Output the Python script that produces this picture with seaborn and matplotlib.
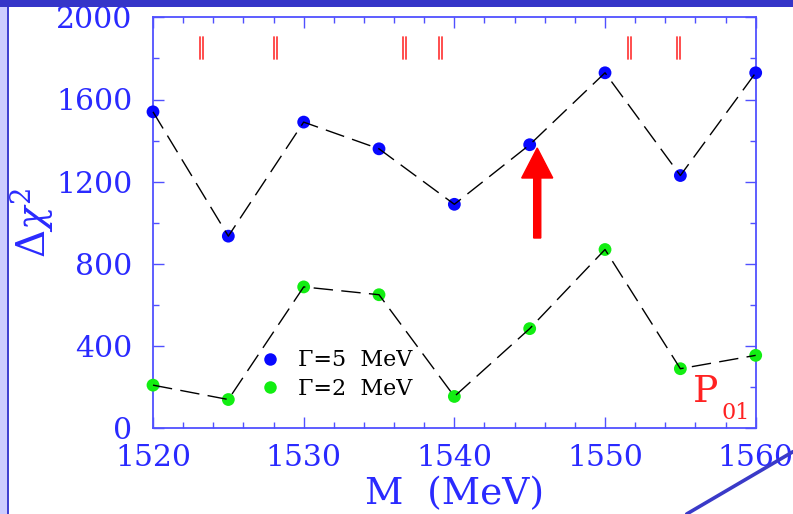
import numpy as np
import pandas as pd
import matplotlib
matplotlib.use("Agg")
import matplotlib.pyplot as plt
import seaborn as sns
from matplotlib.patches import Rectangle
from matplotlib.lines import Line2D
from matplotlib.ticker import MultipleLocator

# ---- data ----
masses = [1520, 1525, 1530, 1535, 1540, 1545, 1550, 1555, 1560]
chi2_gamma5 = [1540, 935, 1490, 1360, 1090, 1380, 1730, 1230, 1730]
chi2_gamma2 = [210, 140, 688, 650, 155, 485, 870, 290, 355]
series_labels = ["\u0393=5  MeV", "\u0393=2  MeV"]
resonance_marks = [1523.2, 1528.1, 1536.7, 1539.1, 1551.6, 1554.9]
arrow_mass = 1545.5
arrow_from, arrow_to = 926, 1364
x_ticks = [1520, 1530, 1540, 1550, 1560]
y_ticks = [0, 400, 800, 1200, 1600, 2000]

sns.set_style("ticks")
plt.rcParams["font.family"] = ["DejaVu Serif"]
plt.rcParams["mathtext.fontset"] = "dejavuserif"

W, H = 793, 514
fig = plt.figure(figsize=(W / 100, H / 100), dpi=100)
ax = fig.add_axes([153 / W, 1 - 428.3 / H, (755.7 - 153) / W, (428.3 - 17.3) / H])

df = pd.DataFrame({
    "M": masses * 2,
    "chi2": chi2_gamma5 + chi2_gamma2,
    "series": [series_labels[0]] * len(masses) + [series_labels[1]] * len(masses),
})
palette = {series_labels[0]: "#0808ff", series_labels[1]: "#12ee12"}

sns.scatterplot(data=df, x="M", y="chi2", hue="series", palette=palette,
                s=85, linewidth=0, ax=ax, clip_on=False, zorder=3, legend=False)
for lab in series_labels:
    sub = df[df["series"] == lab]
    sns.lineplot(data=sub, x="M", y="chi2", color="black", lw=1.0, ax=ax,
                 linestyle=(0, (14, 6)), zorder=4, clip_on=False)

# resonance double ticks
for xm in resonance_marks:
    for dx in (-0.1, 0.1):
        ax.plot([xm + dx, xm + dx], [1797, 1906], color="#ff4040", lw=1.3, zorder=2)

# red arrow
ax.arrow(arrow_mass, arrow_from, 0, arrow_to - arrow_from, width=0.47,
         head_width=2.06, head_length=146, length_includes_head=True,
         color="#ff0000", zorder=5)

ax.set_xlim(1520, 1560)
ax.set_ylim(0, 2000)
ax.set_xticks(x_ticks)
ax.set_yticks(y_ticks)
ax.xaxis.set_minor_locator(MultipleLocator(2))
ax.yaxis.set_minor_locator(MultipleLocator(200))

axcol = "#5050ff"
txtcol = "#2a2aff"
for sp in ax.spines.values():
    sp.set_color(axcol)
    sp.set_linewidth(1.3)
ax.tick_params(which="both", direction="in", top=True, right=True, color=axcol, width=1.0)
ax.tick_params(which="major", length=8)
ax.tick_params(which="minor", length=4.3)
ax.tick_params(axis="x", which="major", labelsize=21.5, labelcolor=txtcol, pad=11)
ax.tick_params(axis="y", which="major", labelsize=21.5, labelcolor=txtcol, pad=15)

ax.set_xlabel("M  (MeV)", fontsize=27, color=txtcol, labelpad=3)
ax.set_ylabel(r"$\Delta\chi^2$", fontsize=28, color=txtcol)
ax.yaxis.set_label_coords(-0.162, 0.50)

# legend
handles = [Line2D([], [], marker="o", linestyle="", markersize=9,
                  markerfacecolor=palette[l], markeredgewidth=0) for l in series_labels]
leg = ax.legend(handles, series_labels, loc="upper left", bbox_to_anchor=(0.175, 0.192),
                frameon=False, fontsize=16, handlelength=1.0, handletextpad=0.8,
                labelspacing=0.3, borderpad=0, borderaxespad=0)
for t in leg.get_texts():
    t.set_color("black")

# P01 label
ax.text(1555.83, 129, "P", fontsize=27, color="#ff2222", ha="left", va="baseline")
ax.text(1557.74, 45, "01", fontsize=16, color="#ff2222", ha="left", va="baseline")

# slide decorations
fig.add_artist(Rectangle((0, 1 - 6.7 / H), 1, 6.7 / H, transform=fig.transFigure,
                         color="#3535c8", lw=0))
fig.add_artist(Rectangle((0, 0), 7 / W, 1 - 6.7 / H, transform=fig.transFigure,
                         color="#ccccff", lw=0))
fig.add_artist(Rectangle((7 / W, 0), 2 / W, 1 - 6.7 / H, transform=fig.transFigure,
                         color="#4040d0", lw=0))
fig.add_artist(Line2D([686.7 / W, 1.0], [0, (H - 451.7) / H], transform=fig.transFigure,
                      color="#3a3ac8", lw=2.6))

fig.savefig("out.png", dpi=100)
